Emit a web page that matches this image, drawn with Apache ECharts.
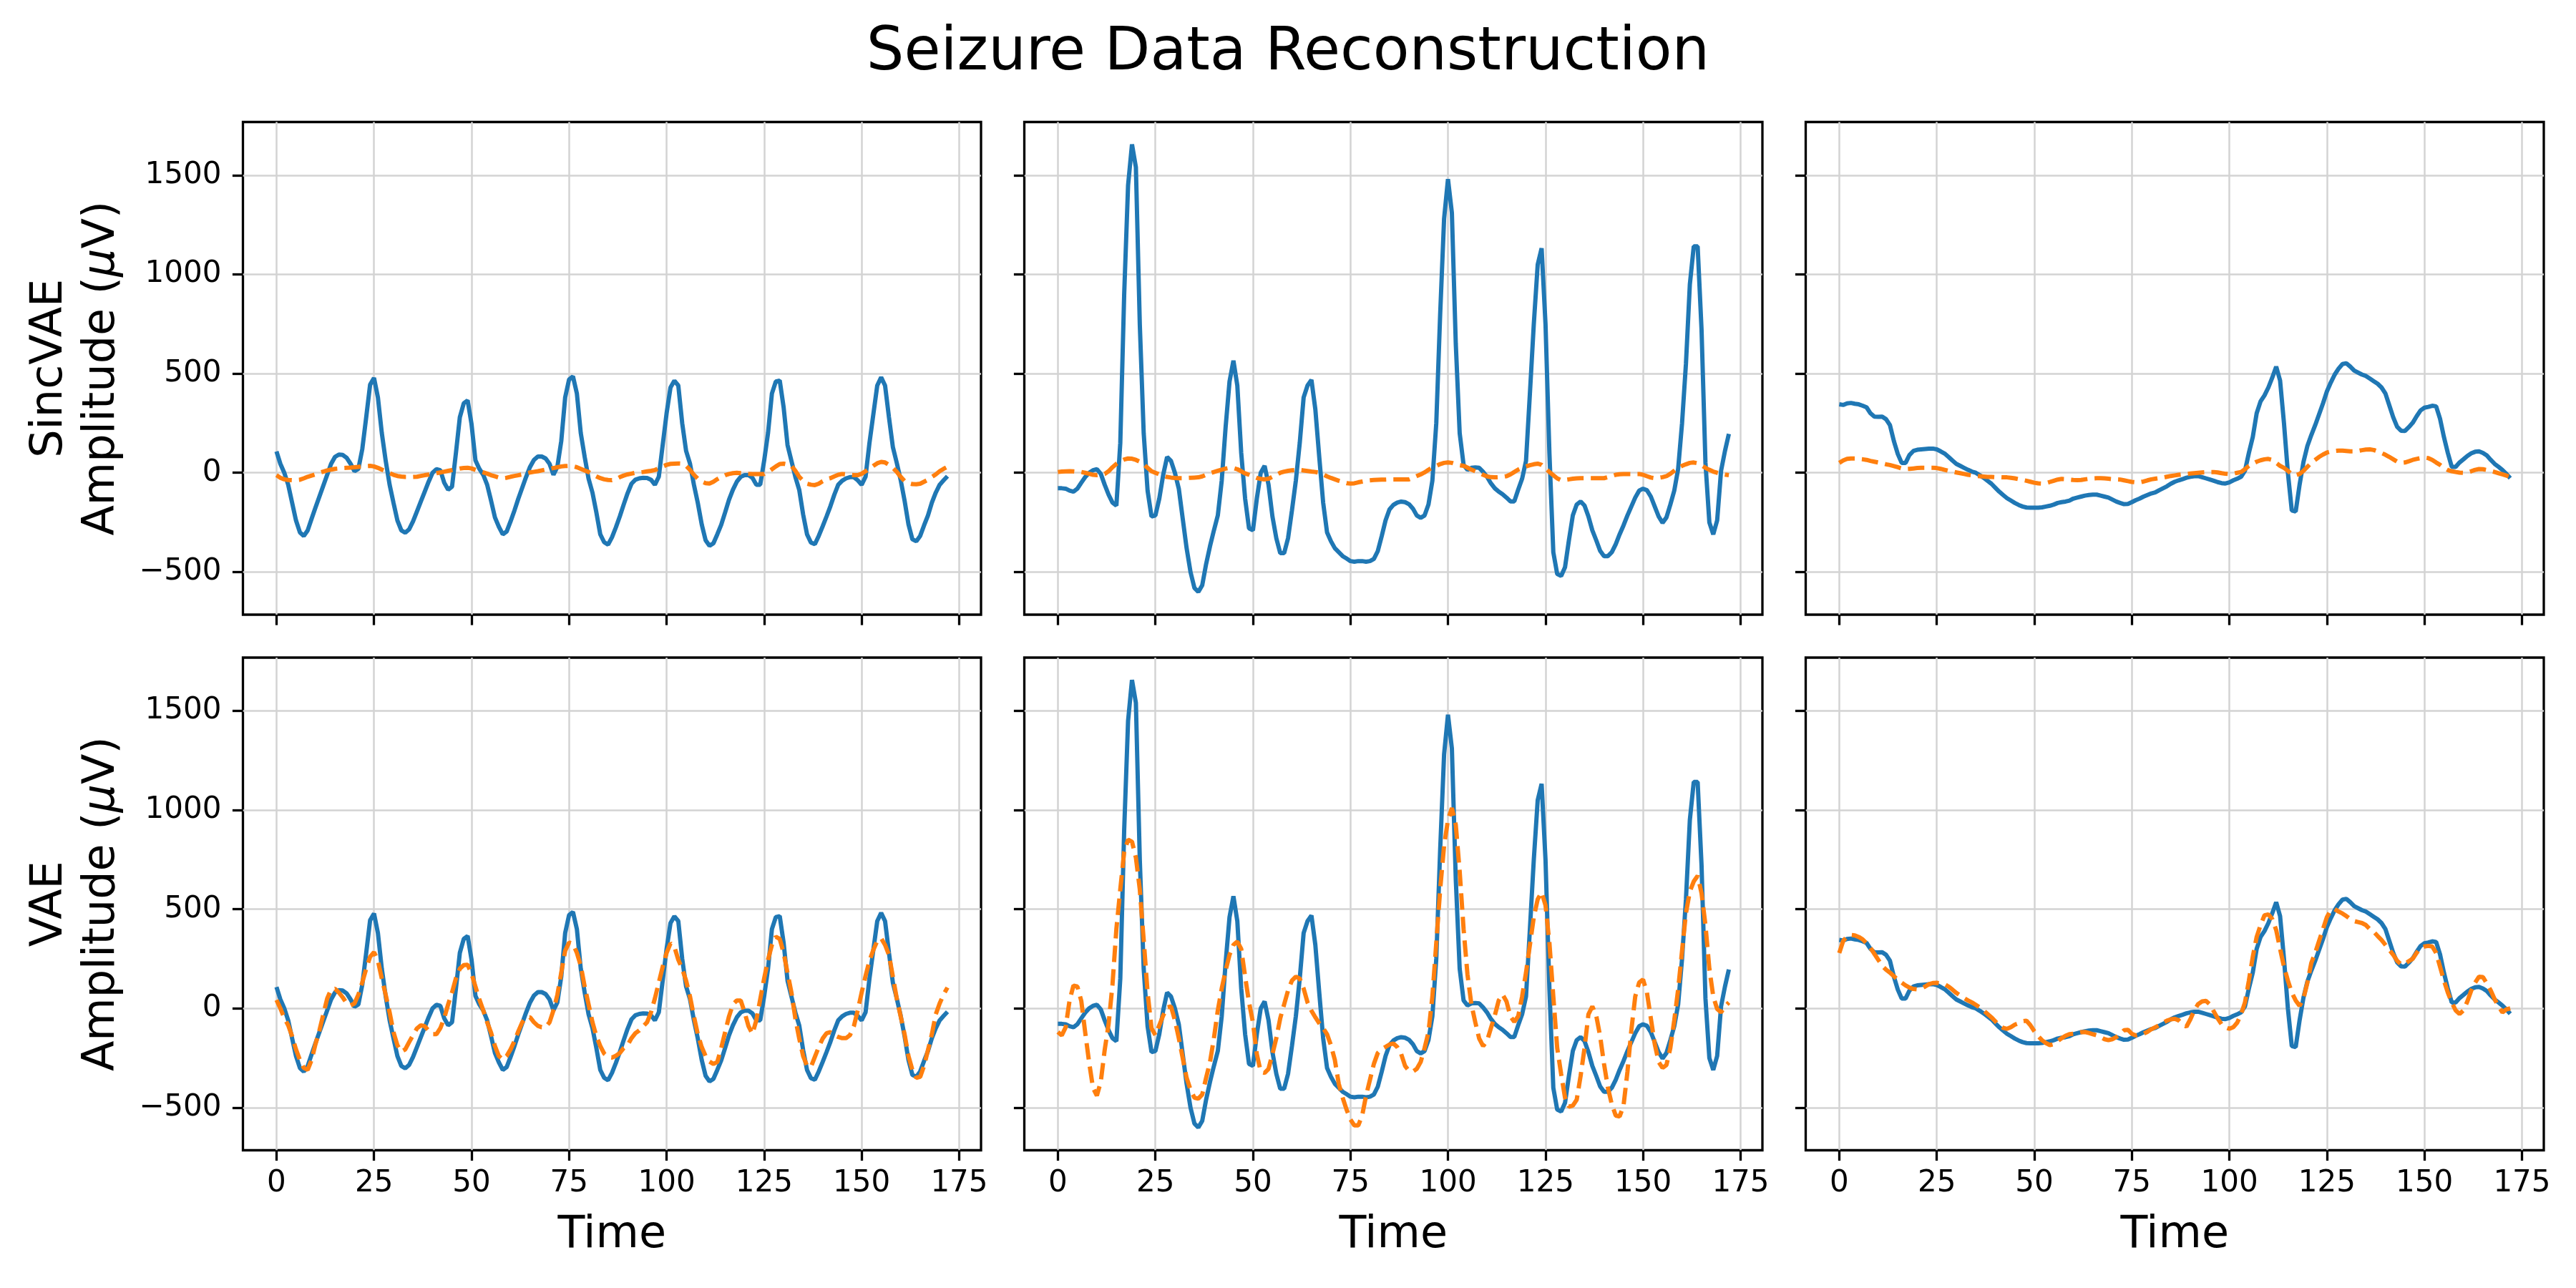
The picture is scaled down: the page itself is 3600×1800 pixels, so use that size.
<!DOCTYPE html>
<html>
<head>
<meta charset="utf-8">
<script src="https://cdn.jsdelivr.net/npm/echarts@6/dist/echarts.min.js"></script>
<style>
html,body{margin:0;padding:0;background:#fff;}
#chart{width:3600px;height:1800px;}
</style>
</head>
<body>
<div id="chart"></div>
<script>
// ---------- data ----------
const chartTitle = 'Seizure Data Reconstruction';
const rowNames = ['SincVAE', 'VAE'];
const xTicks = [0, 25, 50, 75, 100, 125, 150, 175];
const yTicks = [-500, 0, 500, 1000, 1500];

// original seizure segments (blue, same in both rows)
const original1 = [
  108, 45, 0, -60, -150, -240, -300, -318, -290, -232,
  -175, -120, -65, -10, 45, 80, 92, 90, 75, 45,
  8, 20, 120, 280, 444, 478, 380, 200, 60, -60,
  -152, -240, -290, -302, -285, -245, -195, -145, -95, -45,
  0, 18, 13, -50, -85, -70, 100, 280, 350, 365,
  245, 63, 20, -10, -60, -140, -225, -272, -310, -296,
  -245, -190, -130, -75, -20, 30, 65, 82, 82, 72,
  45, -10, 30, 160, 380, 470, 486, 400, 200, 80,
  -30, -100, -200, -310, -350, -362, -325, -275, -220, -160,
  -103, -55, -35, -28, -25, -26, -35, -60, -20, 140,
  300, 430, 464, 440, 250, 110, 46, -60, -152, -260,
  -340, -368, -355, -310, -262, -200, -136, -85, -45, -20,
  -12, -12, -25, -60, -60, 60, 200, 400, 460, 465,
  330, 140, 60, -20, -86, -210, -310, -352, -360, -318,
  -270, -220, -168, -110, -60, -40, -28, -22, -22, -38,
  -60, -20, 150, 295, 440, 481, 440, 280, 130, 50,
  -36, -140, -260, -335, -345, -318, -265, -215, -150, -100,
  -60, -38, -17
];
const original2 = [
  -78, -78, -80, -90, -95, -80, -50, -22, 0, 13,
  18, -5, -60, -110, -150, -165, 150, 900, 1450, 1655,
  1540, 750, 200, -90, -220, -215, -130, -10, 80, 60,
  0, -80, -230, -380, -500, -580, -600, -567, -460, -370,
  -290, -215, -40, 230, 460, 565, 440, 100, -130, -280,
  -290, -130, 0, 35, -60, -220, -330, -405, -405, -330,
  -190, -40, 150, 380, 440, 468, 320, 80, -150, -300,
  -345, -380, -400, -420, -432, -445, -448, -445, -445, -448,
  -445, -434, -395, -320, -240, -185, -162, -150, -145, -148,
  -158, -180, -215, -227, -215, -160, -40, 250, 800, 1280,
  1480, 1310, 650, 200, 40, 15, 25, 27, 25, 5,
  -20, -53, -78, -95, -108, -125, -144, -144, -85, -30,
  60, 400, 750, 1050, 1132, 750, 100, -400, -510, -520,
  -476, -340, -215, -160, -145, -165, -220, -290, -340, -393,
  -420, -420, -400, -360, -310, -265, -215, -170, -125, -90,
  -80, -88, -120, -170, -220, -252, -225, -160, -90, 20,
  250, 550, 950, 1141, 1141, 720, 50, -250, -310, -240,
  10, 110, 196
];
const original3 = [
  345, 342, 350, 352, 348, 345, 338, 330, 300, 283,
  282, 283, 270, 240, 160, 95, 50, 50, 90, 110,
  116, 118, 120, 122, 122, 118, 108, 97, 80, 62,
  45, 35, 25, 15, 6, 0, -12, -25, -40, -55,
  -75, -95, -112, -128, -140, -152, -162, -170, -175, -176,
  -176, -176, -174, -170, -166, -160, -152, -148, -145, -140,
  -130, -125, -120, -115, -112, -110, -110, -115, -120, -125,
  -135, -145, -152, -158, -157, -148, -138, -130, -120, -112,
  -104, -99, -88, -78, -68, -55, -45, -38, -32, -25,
  -20, -17, -17, -22, -28, -34, -40, -47, -52, -54,
  -48, -38, -30, -20, 10, 100, 180, 300, 360, 390,
  430, 480, 535, 465, 250, 0, -190, -195, -60, 55,
  135, 190, 240, 295, 350, 410, 455, 495, 525, 548,
  552, 535, 515, 505, 495, 488, 475, 462, 449, 430,
  400, 340, 280, 232, 212, 211, 230, 252, 285, 314,
  328, 332, 338, 335, 273, 180, 100, 30, 30, 52,
  68, 85, 98, 106, 108, 100, 87, 65, 45, 30,
  14, -5, -27
];

// SincVAE reconstructions (orange, top row)
const sinc1 = [
  -12, -25, -33, -36, -37, -37, -35, -28, -20, -14,
  -8, 0, 6, 12, 16, 20, 22, 24, 25, 26,
  28, 30, 32, 34, 35, 32, 25, 16, 8, -2,
  -10, -16, -19, -21, -21, -21, -20, -16, -12, -9,
  -6, -2, 2, 6, 10, 14, 18, 22, 24, 25,
  22, 15, 8, 2, -4, -12, -18, -24, -27, -25,
  -20, -16, -12, -8, -3, 2, 5, 8, 12, 16,
  20, 24, 28, 32, 34, 35, 33, 28, 20, 12,
  4, -8, -18, -27, -33, -36, -37, -32, -22, -14,
  -8, -4, 0, 2, 4, 7, 10, 14, 22, 32,
  40, 45, 46, 47, 46, 35, 15, -10, -30, -44,
  -52, -54, -45, -32, -21, -12, -6, -2, 0, -2,
  -4, -5, -6, -6, -6, -6, 4, 18, 32, 44,
  46, 42, 35, 10, -20, -40, -55, -60, -62, -55,
  -42, -32, -27, -18, -10, -6, -8, -10, -12, -12,
  -5, 8, 20, 35, 48, 55, 52, 40, 25, 5,
  -20, -42, -52, -57, -58, -55, -45, -35, -21, -8,
  8, 20, 30
];
const sinc2 = [
  4, 6, 7, 8, 7, 5, 4, 0, -5, -10,
  -12, -10, -6, 8, 28, 45, 58, 67, 72, 71,
  65, 56, 42, 25, 8, 0, -8, -15, -21, -24,
  -26, -27, -27, -26, -25, -24, -23, -18, -10, -2,
  4, 10, 16, 21, 25, 24, 18, 8, -3, -10,
  -18, -26, -31, -33, -30, -20, -10, 0, 6, 10,
  13, 14, 14, 12, 9, 6, 4, 0, -8, -18,
  -26, -33, -40, -46, -52, -54, -53, -48, -44, -40,
  -38, -36, -35, -34, -34, -33, -33, -33, -33, -33,
  -33, -25, -16, -8, 2, 15, 27, 35, 44, 50,
  52, 50, 44, 38, 35, 26, 16, 8, 0, -10,
  -18, -22, -23, -22, -20, -17, -8, 4, 16, 25,
  32, 38, 43, 46, 40, 22, 4, -12, -28, -37,
  -36, -33, -30, -28, -27, -27, -27, -27, -27, -27,
  -27, -22, -16, -10, -7, -6, -6, -6, -6, -6,
  -10, -17, -24, -27, -25, -22, -17, -5, 10, 25,
  35, 43, 50, 52, 48, 38, 25, 15, 6, 0,
  -5, -9, -12
];
const sinc3 = [
  50, 62, 70, 72, 72, 70, 68, 65, 60, 56,
  52, 48, 43, 39, 34, 28, 22, 19, 20, 22,
  24, 25, 25, 25, 25, 24, 20, 15, 10, 6,
  2, -2, -6, -10, -13, -15, -17, -19, -21, -21,
  -22, -22, -23, -23, -25, -28, -32, -36, -40, -45,
  -50, -53, -54, -52, -46, -40, -34, -31, -32, -34,
  -36, -37, -36, -33, -30, -28, -27, -27, -28, -30,
  -32, -33, -34, -38, -42, -46, -48, -48, -44, -38,
  -33, -30, -27, -24, -20, -16, -13, -10, -8, -6,
  -4, -2, 0, 2, 3, 4, 4, 2, -2, -5,
  -6, -4, 0, 4, 18, 35, 46, 56, 63, 68,
  70, 65, 50, 35, 25, 10, -8, -12, -6, 10,
  30, 50, 65, 80, 92, 102, 107, 110, 112, 112,
  110, 108, 108, 110, 114, 117, 118, 115, 108, 100,
  91, 80, 68, 56, 50, 52, 58, 65, 70, 74,
  77, 74, 65, 52, 40, 25, 14, 8, 4, 1,
  0, 2, 8, 15, 19, 18, 14, 9, 4, -2,
  -8, -14, -21
];

// VAE reconstructions (orange, bottom row)
const vae1 = [
  42, 0, -49, -85, -140, -207, -260, -300, -310, -260,
  -180, -112, -30, 50, 95, 99, 80, 55, 25, 15,
  25, 70, 131, 200, 260, 283, 240, 150, 68, -20,
  -120, -186, -218, -207, -170, -135, -101, -85, -90, -112,
  -130, -130, -100, -49, 20, 80, 152, 200, 218, 220,
  175, 110, 46, -10, -70, -122, -190, -240, -258, -240,
  -207, -165, -115, -70, -45, -45, -70, -88, -95, -95,
  -70, -10, 68, 180, 290, 332, 325, 280, 215, 110,
  20, -70, -140, -190, -228, -245, -248, -239, -225, -200,
  -185, -150, -125, -111, -90, -70, -20, 50, 130, 210,
  280, 328, 310, 245, 200, 140, 60, -40, -130, -195,
  -240, -268, -280, -270, -200, -120, -40, 20, 40, 40,
  -20, -90, -128, -60, 46, 150, 245, 320, 361, 350,
  280, 179, 80, -50, -152, -240, -290, -295, -245, -195,
  -152, -125, -120, -135, -144, -150, -150, -135, -90, -10,
  80, 163, 240, 295, 340, 353, 320, 270, 160, 50,
  -40, -130, -240, -310, -350, -345, -290, -210, -130, -30,
  25, 70, 105
];
const vae2 = [
  -119, -136, -95, 40, 115, 110, 38, -120, -270, -400,
  -440, -370, -210, -80, 120, 400, 600, 790, 850, 840,
  760, 600, 345, 80, -100, -135, -85, -36, 5, 10,
  -60, -150, -250, -350, -410, -450, -455, -434, -350, -270,
  -150, -10, 100, 190, 270, 320, 337, 300, 160, 30,
  -70, -230, -320, -325, -305, -230, -150, -50, 20, 90,
  140, 160, 150, 100, 30, -12, -45, -75, -100, -130,
  -186, -260, -380, -450, -510, -560, -590, -590, -540, -440,
  -360, -280, -225, -205, -194, -182, -177, -195, -230, -290,
  -315, -318, -305, -270, -200, -120, 60, 330, 600, 820,
  950, 1010, 925, 690, 400, 170, 20, -70, -152, -190,
  -165, -100, -36, 40, 70, 35, -40, -68, -40, 60,
  180, 320, 460, 550, 585, 520, 330, 60, -200, -330,
  -450, -495, -490, -460, -340, -200, -30, 10, -36, -140,
  -280, -400, -484, -540, -545, -490, -320, -110, 60, 130,
  146, 80, -50, -180, -270, -300, -285, -200, -60, 96,
  290, 480, 590, 640, 668, 580, 420, 200, 60, -3,
  -20, 10, 30
];
const vae3 = [
  279, 340, 362, 370, 368, 360, 348, 328, 305, 275,
  245, 215, 195, 180, 162, 145, 130, 116, 105, 98,
  96, 100, 110, 122, 128, 129, 126, 122, 110, 95,
  78, 65, 52, 40, 30, 18, 5, -10, -28, -45,
  -65, -86, -98, -103, -95, -82, -75, -65, -62, -85,
  -115, -140, -161, -175, -185, -180, -165, -150, -138, -130,
  -128, -124, -120, -119, -124, -130, -136, -145, -155, -160,
  -155, -145, -130, -110, -108, -128, -136, -132, -128, -118,
  -105, -95, -85, -72, -62, -55, -52, -60, -80, -92,
  -55, -10, 22, 35, 38, 20, -15, -50, -80, -95,
  -103, -95, -72, -30, 30, 140, 260, 360, 420, 469,
  474, 450, 395, 300, 210, 140, 80, 40, 13, 50,
  130, 229, 280, 340, 400, 460, 495, 500, 488, 478,
  465, 450, 440, 435, 430, 420, 400, 386, 365, 345,
  320, 295, 270, 240, 222, 225, 238, 250, 280, 305,
  312, 315, 312, 280, 210, 140, 80, 30, -10, -28,
  -10, 35, 90, 130, 160, 158, 125, 90, 46, 10,
  -20, -5, 0
];

const originals = [original1, original2, original3];
const reconstructions = [[sinc1, sinc2, sinc3], [vae1, vae2, vae3]];

// ---------- layout ----------
const FONT = 'DejaVu Sans';
const colLeft = [339.5, 1431.5, 2523.5];
const rowTop = [170.5, 919];
const panelW = 1031.5, panelH = 688.5;
const xMin = -8.6, xMax = 180.6;
const yMin = -715, yMax = 1768;
const fmt = v => (v < 0 ? '\u2212' + Math.abs(v) : String(v));
const toPairs = arr => arr.map((v, i) => [i, v]);

const grids = [], xAxes = [], yAxes = [], series = [];
for (let r = 0; r < 2; r++) {
  for (let c = 0; c < 3; c++) {
    const idx = r * 3 + c;
    grids.push({
      left: colLeft[c], top: rowTop[r], width: panelW, height: panelH,
      show: true, borderColor: '#000', borderWidth: 3.3, backgroundColor: 'transparent',
      containLabel: false
    });
    xAxes.push({
      gridIndex: idx, type: 'value', min: xMin, max: xMax, position: 'bottom',
      axisLine: { show: false, onZero: false },
      axisTick: { show: true, inside: false, length: 14.6, lineStyle: { color: '#000', width: 3.3 }, customValues: xTicks },
      axisLabel: { show: r === 1, customValues: xTicks, formatter: fmt, fontFamily: FONT, fontSize: 42, color: '#000', margin: 26 },
      splitLine: { show: true, lineStyle: { color: '#d3d3d3', width: 2.5 } },
      name: r === 1 ? 'Time' : '', nameLocation: 'middle', nameGap: 88,
      nameTextStyle: { fontFamily: FONT, fontSize: 62, color: '#000' }
    });
    yAxes.push({
      gridIndex: idx, type: 'value', min: yMin, max: yMax, position: 'left',
      axisLine: { show: false, onZero: false },
      axisTick: { show: true, inside: false, length: 14.6, lineStyle: { color: '#000', width: 3.3 }, customValues: yTicks },
      axisLabel: { show: c === 0, customValues: yTicks, formatter: fmt, fontFamily: FONT, fontSize: 42, color: '#000', margin: 30 },
      splitLine: { show: true, lineStyle: { color: '#d3d3d3', width: 2.5 } },
      name: c === 0 ? rowNames[r] + '\nAmplitude ({mu|\u03bc}V)' : '',
      nameLocation: 'middle', nameRotate: 90, nameGap: 160,
      nameTextStyle: {
        fontFamily: FONT, fontSize: 62, lineHeight: 73, color: '#000', align: 'center',
        rich: { mu: { fontFamily: FONT, fontSize: 62, lineHeight: 73, fontStyle: 'italic', color: '#000' } }
      }
    });
    series.push({
      type: 'line', xAxisIndex: idx, yAxisIndex: idx, data: toPairs(originals[c]),
      showSymbol: false, symbol: 'none', lineStyle: { color: '#1f77b4', width: 6 }, z: 3
    });
    series.push({
      type: 'line', xAxisIndex: idx, yAxisIndex: idx, data: toPairs(reconstructions[r][c]),
      showSymbol: false, symbol: 'none', lineStyle: { color: '#ff7f0e', width: 6, type: [23, 10] }, z: 4
    });
  }
}

const chart = echarts.init(document.getElementById('chart'), null, { renderer: 'canvas', width: 3600, height: 1800 });
chart.setOption({
  backgroundColor: '#fff',
  animation: false,
  title: {
    text: chartTitle, left: 'center', top: 29,
    textStyle: { fontFamily: FONT, fontSize: 83, fontWeight: 'normal', color: '#000' }
  },
  grid: grids, xAxis: xAxes, yAxis: yAxes, series: series
});
</script>
</body>
</html>
